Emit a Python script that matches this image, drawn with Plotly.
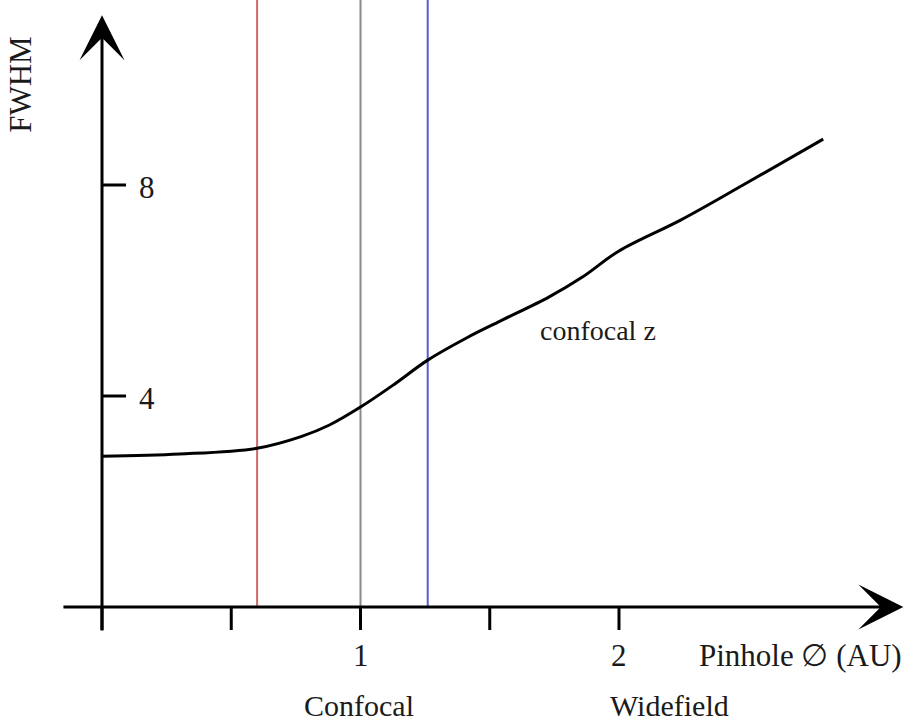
import plotly.graph_objects as go

# Curve data (pinhole diameter in AU vs FWHM)
pinhole = [0.0, 0.3, 0.6, 0.77, 0.88, 1.0, 1.13, 1.26, 1.41, 1.54, 1.73, 1.86, 2.0, 2.24, 2.48, 2.79]
fwhm = [2.86, 2.90, 3.01, 3.23, 3.45, 3.79, 4.22, 4.68, 5.10, 5.42, 5.88, 6.26, 6.75, 7.34, 8.00, 8.87]

# Vertical marker lines
vlines_x = [0.6, 1.0, 1.26]
vlines_color = ["#cc6a6a", "#8a8a8a", "#5a5ad2"]

# Tick positions / labels
xticks = [0.0, 0.5, 1.0, 1.5, 2.0]
xtick_labels = {1.0: "1", 2.0: "2"}
yticks = [4, 8]
ytick_labels = ["4", "8"]

# Axis geometry (data units)
x_min, x_max = -0.3946, 3.1219
y_min, y_max = -2.2559, 11.5071
xaxis_start, xaxis_tip = -0.155, 3.10
yaxis_start, yaxis_tip = -0.474, 11.22
xtick_len = 0.436
ytick_len = 0.093

FONT = "Liberation Serif"
TXT = "#1a1a1a"

fig = go.Figure()

fig.add_trace(go.Scatter(x=pinhole, y=fwhm, mode="lines",
                         line=dict(color="black", width=3, shape="spline", smoothing=1.0),
                         hoverinfo="skip", showlegend=False))

shapes = []
for xv, c in zip(vlines_x, vlines_color):
    shapes.append(dict(type="line", x0=xv, x1=xv, y0=0, y1=y_max, xref="x", yref="y",
                       line=dict(color=c, width=2), layer="below"))
for xv in xticks:
    shapes.append(dict(type="line", x0=xv, x1=xv, y0=0, y1=-xtick_len, xref="x", yref="y",
                       line=dict(color="black", width=3)))
for yv in yticks:
    shapes.append(dict(type="line", x0=0, x1=ytick_len, y0=yv, y1=yv, xref="x", yref="y",
                       line=dict(color="black", width=3)))

annotations = []
# axes with arrows
annotations.append(dict(x=xaxis_tip, y=0, ax=xaxis_start, ay=0, xref="x", yref="y",
                        axref="x", ayref="y", showarrow=True, arrowhead=3, arrowsize=2.5,
                        arrowwidth=3, arrowcolor="black", text=""))
annotations.append(dict(x=0, y=yaxis_tip, ax=0, ay=yaxis_start, xref="x", yref="y",
                        axref="x", ayref="y", showarrow=True, arrowhead=3, arrowsize=2.5,
                        arrowwidth=3, arrowcolor="black", text=""))

fs = 31
for xv, lab in xtick_labels.items():
    annotations.append(dict(x=xv, y=-0.91, text=lab, showarrow=False,
                            font=dict(family=FONT, size=fs, color=TXT)))
for yv, lab in zip(yticks, ytick_labels):
    annotations.append(dict(x=0.174, y=yv - 0.05, text=lab, showarrow=False,
                            font=dict(family=FONT, size=fs, color=TXT)))
annotations.append(dict(x=2.704, y=-0.91, text="Pinhole ∅ (AU)", showarrow=False,
                        font=dict(family=FONT, size=fs, color=TXT)))
annotations.append(dict(x=0.994, y=-1.87, text="Confocal", showarrow=False, borderpad=0,
                        font=dict(family=FONT, size=30, color=TXT)))
annotations.append(dict(x=2.197, y=-1.87, text="Widefield", showarrow=False, borderpad=0,
                        font=dict(family=FONT, size=30, color=TXT)))
annotations.append(dict(x=-0.313, y=9.9, text="FWHM", textangle=-90, showarrow=False,
                        font=dict(family=FONT, size=fs, color=TXT)))
annotations.append(dict(x=1.919, y=5.25, text="confocal z", showarrow=False,
                        font=dict(family=FONT, size=28, color=TXT)))

fig.update_layout(
    width=909, height=726, autosize=False,
    margin=dict(l=0, r=0, t=0, b=0),
    paper_bgcolor="white", plot_bgcolor="white",
    xaxis=dict(range=[x_min, x_max], visible=False, fixedrange=True),
    yaxis=dict(range=[y_min, y_max], visible=False, fixedrange=True),
    shapes=shapes, annotations=annotations,
)

fig.write_html("out.html")
